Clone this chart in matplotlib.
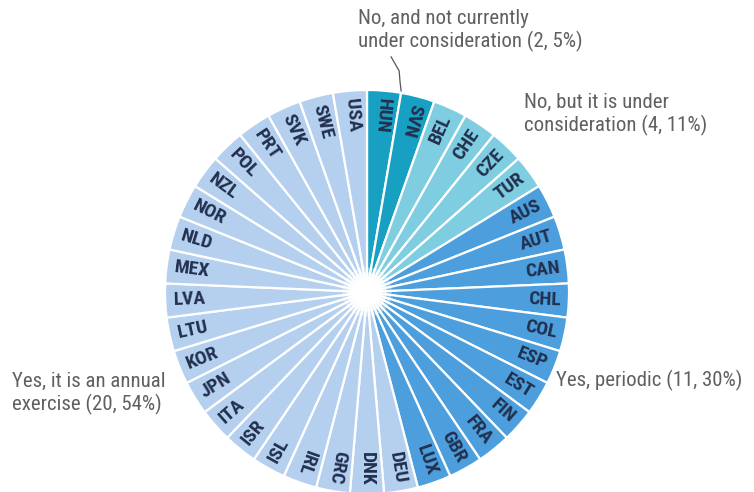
import numpy as np
import matplotlib
matplotlib.use("Agg")
import matplotlib.pyplot as plt
from matplotlib import font_manager

# Countries grouped by answer, in clockwise order from 12 o'clock
no_not_considered = ["HUN", "SVN"]
no_under_consideration = ["BEL", "CHE", "CZE", "TUR"]
yes_periodic = ["AUS", "AUT", "CAN", "CHL", "COL", "ESP", "EST", "FIN", "FRA", "GBR", "LUX"]
yes_annual = ["DEU", "DNK", "GRC", "IRL", "ISL", "ISR", "ITA", "JPN", "KOR", "LTU", "LVA",
              "MEX", "NLD", "NOR", "NZL", "POL", "PRT", "SVK", "SWE", "USA"]

group_labels = ["No, and not currently\nunder consideration (2, 5%)",
                "No, but it is under\nconsideration (4, 11%)",
                "Yes, periodic (11, 30%)",
                "Yes, it is an annual\nexercise (20, 54%)"]
group_colors = ["#17a0c2", "#7fcde0", "#4c9fdc", "#b5d0ef"]

groups = [no_not_considered, no_under_consideration, yes_periodic, yes_annual]
countries = [c for g in groups for c in g]
colors = [group_colors[i] for i, g in enumerate(groups) for c in g]
sizes = [1] * len(countries)

# pick a narrow font if one is around
names = set(f.name for f in font_manager.fontManager.ttflist)
narrow = [n for n in ['Liberation Sans Narrow', 'Roboto Condensed', 'Open Sans Condensed',
                      'DejaVu Sans Condensed'] if n in names]
label_font = narrow[:1] + ['DejaVu Sans']
stretch = 'normal' if narrow else 'condensed'

fig = plt.figure(figsize=(7.54, 4.92), dpi=100)
ax = fig.add_axes([0, 0, 1, 1])

cx, cy, R = 367, 200, 202
wedges, _ = ax.pie(sizes, colors=colors, startangle=90, counterclock=False,
                   center=(cx, cy), radius=R, frame=True,
                   wedgeprops=dict(edgecolor='white', linewidth=1.6))
ax.set_xlim(0, 754)
ax.set_ylim(0, 492)
ax.axis('off')

# white hole in the middle
for rr, a in [(24, 0.3), (19, 0.6), (14, 1.0)]:
    ax.add_patch(plt.Circle((cx, cy), rr, color='white', alpha=a, zorder=3))

# country labels along the radii
step = 360.0 / len(countries)
for i, name in enumerate(countries):
    th = (90 - (i + 0.5) * step) % 360
    rad = np.deg2rad(th)
    rr = R * 0.96
    x, y = cx + rr * np.cos(rad), cy + rr * np.sin(rad)
    if 70 < th < 245:
        rot, ha = th - 180, 'left'
    else:
        rot, ha = th, 'right'
    ax.text(x, y, name, rotation=rot, rotation_mode='anchor', ha=ha, va='center',
            fontsize=14, fontweight='bold', fontstretch=stretch,
            color='#22304f', family=label_font, zorder=4)

# group annotations
gray = '#606060'
kw = dict(fontsize=15, color=gray, family=label_font, fontstretch=stretch, ha='left')
ax.text(358, 483, group_labels[0], va='top', linespacing=1.2, **kw)
ax.text(524, 399, group_labels[1], va='top', linespacing=1.2, **kw)
ax.text(556, 112, group_labels[2], va='center', **kw)
ax.text(12, 120, group_labels[3], va='top', linespacing=1.2, **kw)

# leader line to the HUN/SVN boundary
b = np.deg2rad(90 - step)
ex, ey = cx + R * np.cos(b), cy + R * np.sin(b)
ax.plot([ex - 10, ex - 2, ex - 1, ex], [ey + 36, ey + 22, ey + 10, ey + 2],
        color='#555555', linewidth=0.9, zorder=5)

fig.savefig("out.png", dpi=100)
